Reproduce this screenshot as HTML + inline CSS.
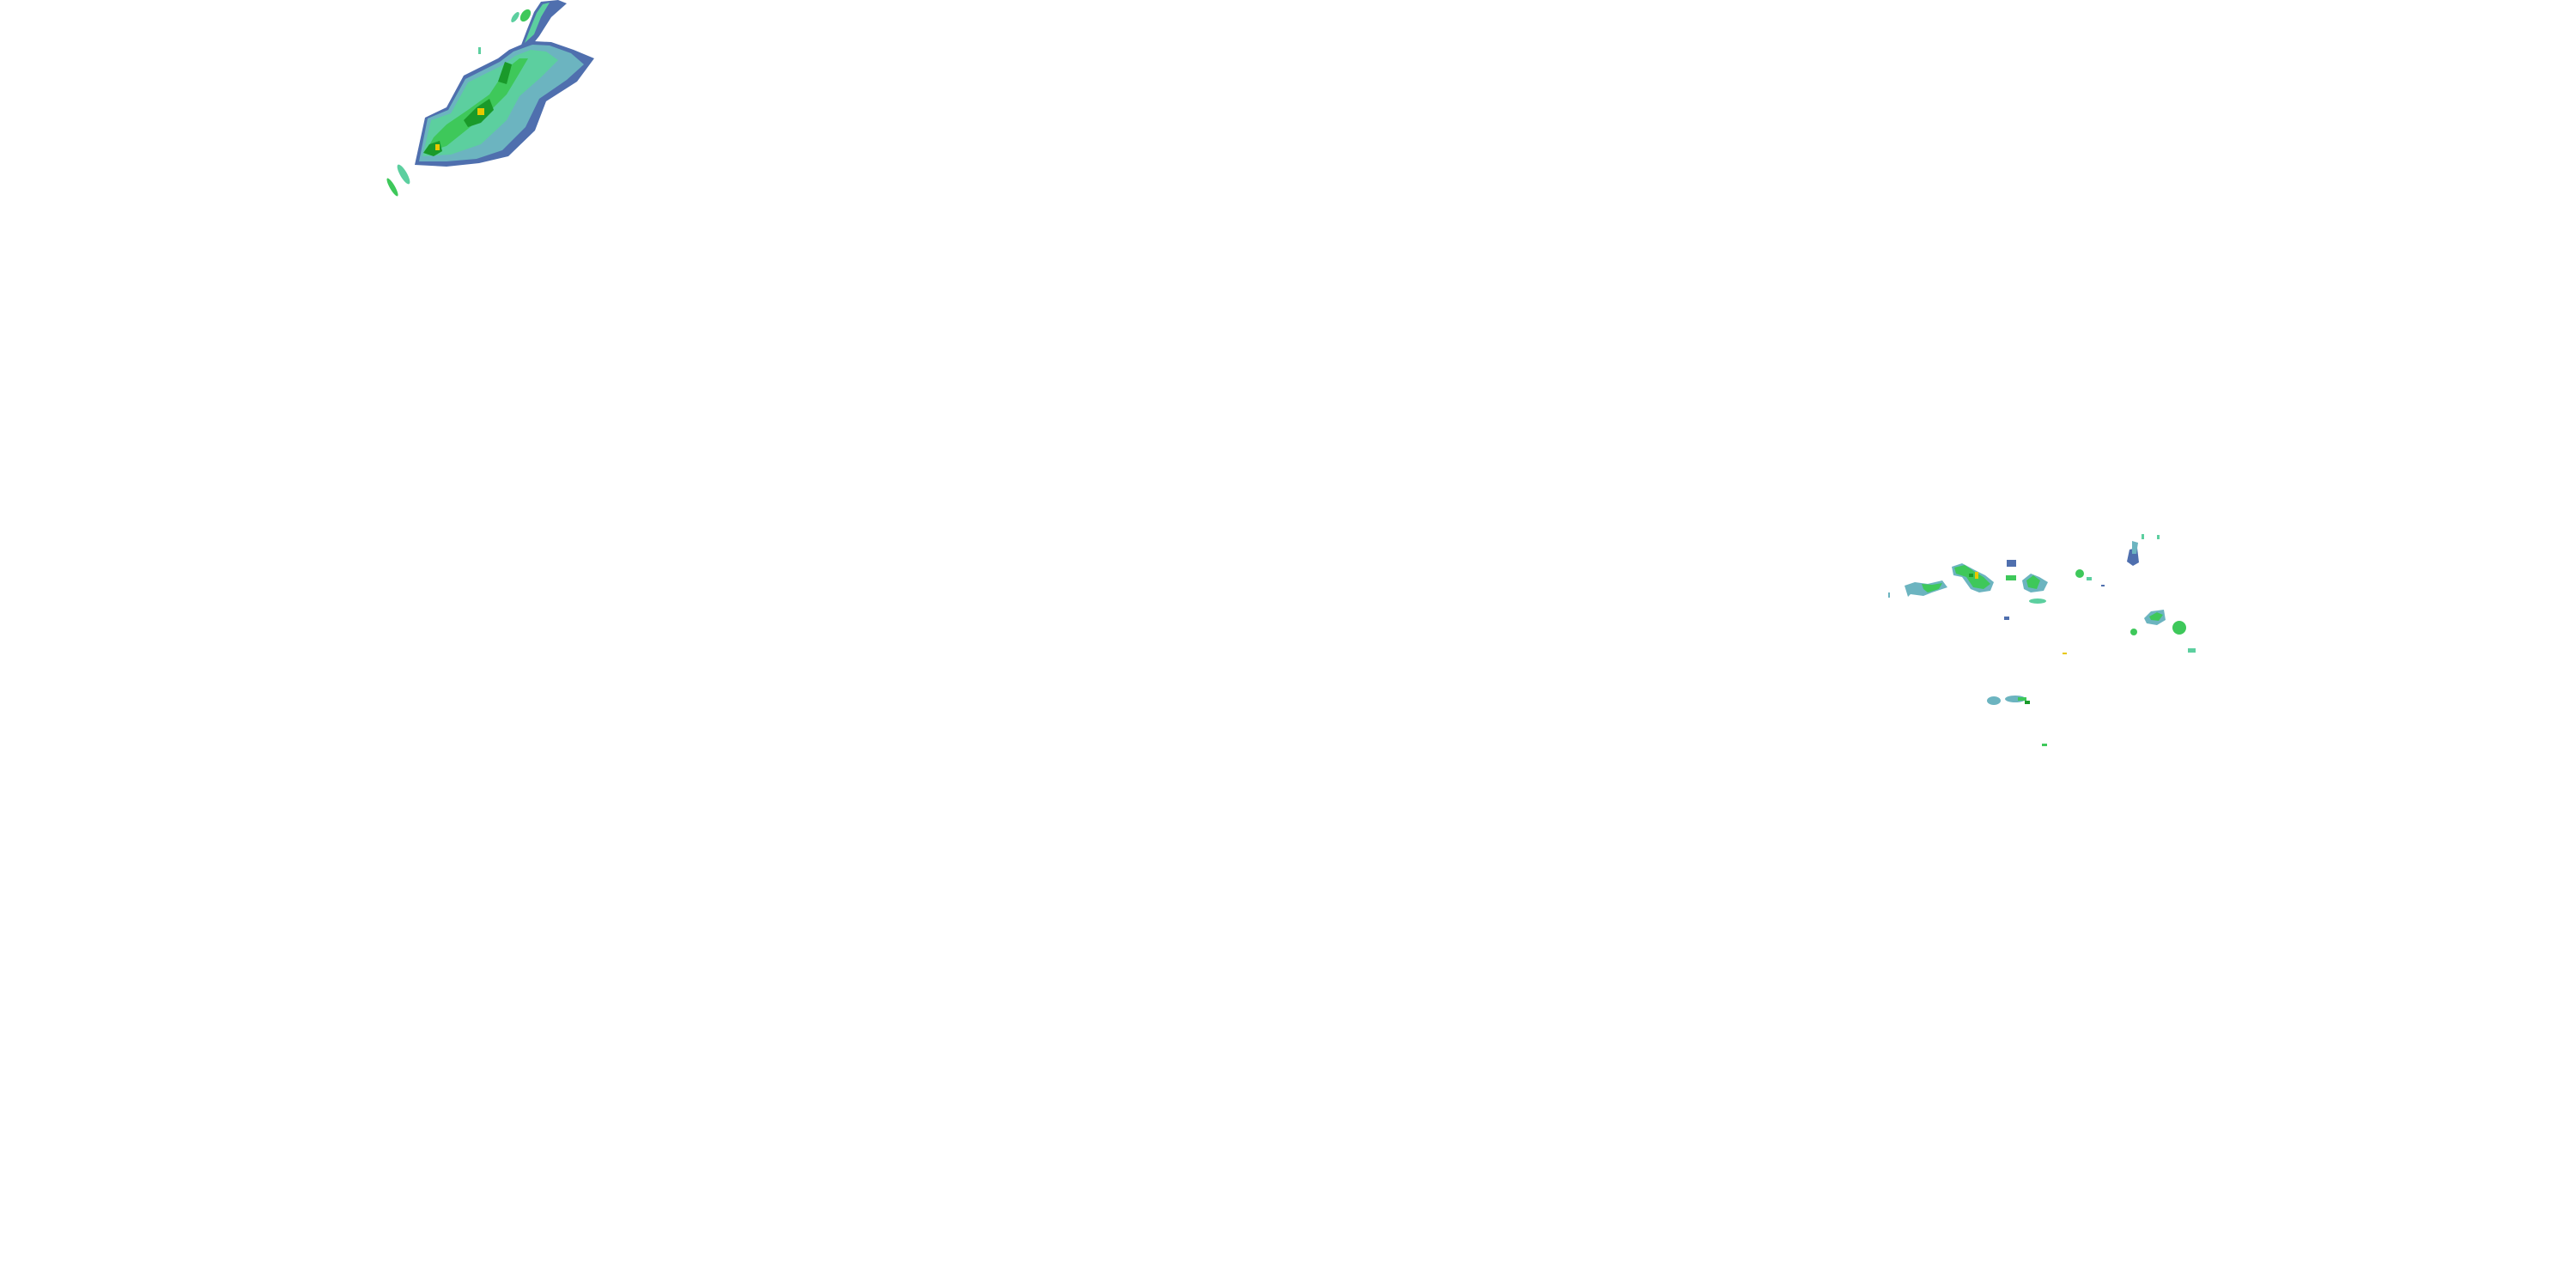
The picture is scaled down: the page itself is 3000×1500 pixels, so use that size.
<!DOCTYPE html>
<html><head><meta charset="utf-8"><style>html,body{margin:0;padding:0;background:#fff;width:3000px;height:1500px;overflow:hidden}</style></head>
<body>
<svg width="3000" height="1500" viewBox="0 0 3000 1500" xmlns="http://www.w3.org/2000/svg">
<rect width="3000" height="1500" fill="#fff"/>
<!-- top-left storm -->
<g>
<polygon fill="#4f6fae" points="483,192 495,137 520,125 540,88 580,68 593,58 607,52 622,48 642,49 668,58 692,68 672,95 636,118 623,152 592,182 558,190 520,194"/>
<polygon fill="#6cb4c0" points="488,188 498,138 522,128 542,92 582,72 598,60 620,52 640,53 665,62 680,75 660,93 628,115 612,148 585,175 555,185 520,188"/>
<polygon fill="#5ccf9f" points="492,182 502,140 525,132 545,96 585,76 600,65 618,58 636,60 650,70 630,90 605,112 590,140 560,168 525,180"/>
<polygon fill="#3ec85a" points="495,178 505,160 520,145 545,128 570,110 590,80 605,68 615,68 605,85 590,110 570,130 545,150 520,170"/>
<polygon fill="#1a9a2a" points="540,140 555,125 570,115 575,128 560,143 545,148"/>
<polygon fill="#1a9a2a" points="493,178 500,168 512,164 515,176 505,182"/>
<polygon fill="#1a9a2a" points="580,95 588,72 596,75 590,98"/>
<rect x="556" y="126" width="8" height="8" fill="#e8c800"/>
<rect x="507" y="168" width="5" height="7" fill="#e8c800"/>
<polygon fill="#4f6fae" points="606,55 614,34 622,14 630,2 650,0 660,4 642,20 628,42 620,52"/>
<polygon fill="#5ccf9f" points="611,50 618,32 625,15 632,5 640,3 630,20 622,40"/>
<ellipse cx="612" cy="18" rx="5" ry="8" fill="#3ec85a" transform="rotate(35 612 18)"/>
<ellipse cx="600" cy="20" rx="3" ry="7" fill="#5ccf9f" transform="rotate(35 600 20)"/>
<ellipse cx="470" cy="203" rx="4" ry="13" fill="#5ccf9f" transform="rotate(-30 470 203)"/>
<ellipse cx="457" cy="218" rx="3" ry="12" fill="#3ec85a" transform="rotate(-30 457 218)"/>
<rect x="557" y="55" width="3" height="8" fill="#5ccf9f"/>
</g>
<!-- right cluster -->
<g>
<polygon fill="#6cb4c0" points="2273,660 2285,656 2300,664 2312,670 2322,678 2318,688 2305,690 2295,686 2285,672 2275,670"/>
<polygon fill="#3ec85a" points="2276,661 2288,658 2300,666 2310,672 2318,680 2310,686 2298,684 2290,672 2278,668"/>
<rect x="2300" y="666" width="4" height="8" fill="#e8c800"/>
<rect x="2293" y="668" width="5" height="4" fill="#1a9a2a"/>
<polygon fill="#6cb4c0" points="2218,682 2230,678 2245,680 2262,676 2268,684 2250,690 2240,694 2225,692 2222,695"/>
<polygon fill="#3ec85a" points="2238,680 2250,681 2262,679 2258,686 2245,690 2240,686"/>
<rect x="2337" y="652" width="11" height="8" fill="#4f6fae"/>
<polygon fill="#6cb4c0" points="2355,676 2365,668 2375,672 2385,678 2380,688 2365,690 2357,686"/>
<polygon fill="#3ec85a" points="2360,676 2368,670 2376,676 2372,686 2362,684"/>
<rect x="2336" y="670" width="12" height="6" fill="#3ec85a"/>
<ellipse cx="2373" cy="700" rx="10" ry="3" fill="#5ccf9f"/>
<ellipse cx="2422" cy="668" rx="5" ry="5" fill="#3ec85a"/>
<polygon fill="#4f6fae" points="2480,640 2489,638 2491,655 2484,659 2477,654"/>
<polygon fill="#6cb4c0" points="2483,630 2490,632 2488,645 2483,645"/>
<rect x="2494" y="622" width="3" height="6" fill="#5ccf9f"/>
<rect x="2512" y="623" width="3" height="5" fill="#5ccf9f"/>
<polygon fill="#6cb4c0" points="2497,720 2505,712 2520,710 2522,722 2512,728 2500,726"/>
<polygon fill="#3ec85a" points="2503,718 2512,713 2519,716 2514,723 2505,722"/>
<ellipse cx="2538" cy="731" rx="8" ry="8" fill="#3ec85a"/>
<ellipse cx="2485" cy="736" rx="4" ry="4" fill="#3ec85a"/>
<rect x="2548" y="755" width="9" height="5" fill="#5ccf9f"/>
<rect x="2430" y="672" width="6" height="4" fill="#5ccf9f"/>
<rect x="2447" y="681" width="4" height="2" fill="#4f6fae"/>
<ellipse cx="2322" cy="816" rx="8" ry="5" fill="#6cb4c0"/>
<ellipse cx="2347" cy="814" rx="12" ry="4" fill="#6cb4c0"/>
<rect x="2350" y="812" width="10" height="4" fill="#3ec85a"/>
<rect x="2358" y="816" width="6" height="4" fill="#1a9a2a"/>
<rect x="2378" y="866" width="6" height="3" fill="#3ec85a"/>
<rect x="2334" y="718" width="6" height="4" fill="#4f6fae"/>
<rect x="2402" y="760" width="5" height="2" fill="#e8c800"/>
<rect x="2199" y="690" width="2" height="6" fill="#6cb4c0"/>
</g>
</svg>
</body></html>
